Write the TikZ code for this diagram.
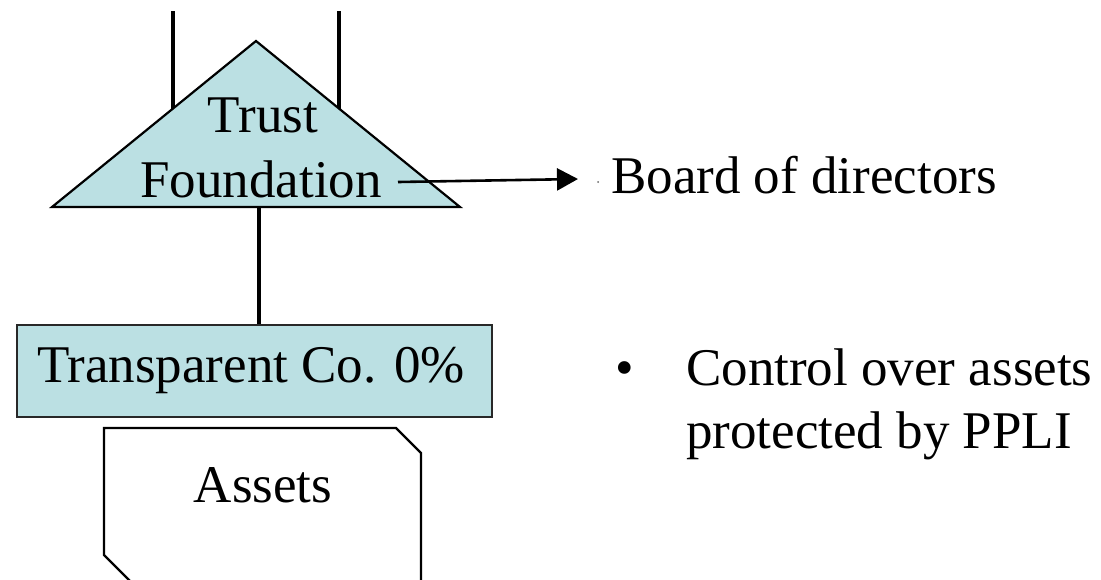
\documentclass[tikz,border=0pt]{standalone}
\usepackage{fontspec}
\setmainfont{Liberation Serif}
\usetikzlibrary{arrows.meta}
\definecolor{boxfill}{RGB}{187,224,227}
\definecolor{boxline}{RGB}{40,40,40}
\begin{document}
\begin{tikzpicture}[x=1pt,y=-1pt,
  txt/.style={inner sep=0pt, anchor=base, font=\fontsize{53}{63}\selectfont},
  txtl/.style={txt, anchor=base west},
  conn/.style={line width=3.4pt, black},
  shapeline/.style={line width=2.2pt, black}]
\useasboundingbox (0,0) rectangle (1101,579);
\begin{scope}
\clip (0,0) rectangle (1101,579);
% vertical lines above triangle
\coordinate (l1top) at (173,11);
\coordinate (l1bot) at (173,110);
\coordinate (l2top) at (339,11);
\coordinate (l2bot) at (339,110);
\draw[conn] (l1top) -- (l1bot);
\draw[conn] (l2top) -- (l2bot);
% triangle
\coordinate (apex) at (256,41);
\coordinate (bl) at (52,207);
\coordinate (br) at (460,207);
\coordinate (tbase) at (259,207);
\draw[shapeline, fill=boxfill, line join=miter] (apex) -- (br) -- (bl) -- cycle;
\node[txt] (trust) at (263,132) {Trust};
\node[txt] (found) at (261,197) {Foundation};
% arrow
\coordinate (astart) at (398,182);
\coordinate (aend) at (578,179);
\draw[line width=2.6pt, -{Triangle[length=21pt,width=22pt]}] (astart) -- (aend);
\fill[black!60] (598,182) circle (1pt);
\node[txtl] (board) at (611,193) {Board of directors};
% transparent co
\node[draw=boxline, line width=2pt, fill=boxfill, minimum width=475pt, minimum height=92pt, inner sep=0pt] (tco) at (254.5,371) {};
\node[txt] (tcotext) at (251,382) {Transparent Co. 0\%};
\draw[conn] (tbase) -- (tbase |- tco.north);
% assets
\coordinate (a1) at (104,428);
\coordinate (a2) at (396,428);
\coordinate (a3) at (421,453);
\coordinate (a4) at (421,610);
\coordinate (a5) at (159,610);
\coordinate (a6) at (104,555);
\draw[shapeline, line join=miter] (a1) -- (a2) -- (a3) -- (a4) -- (a5) -- (a6) -- cycle;
\node[txt] (assets) at (263,502) {Assets};
% bullet text
\node[txt] (bullet) at (625,385) {\textbullet};
\node[txtl] (ctrl) at (686,385) {Control over assets};
\node[txtl] (prot) at (686,448) {protected by PPLI};
\end{scope}
\end{tikzpicture}
\end{document}
